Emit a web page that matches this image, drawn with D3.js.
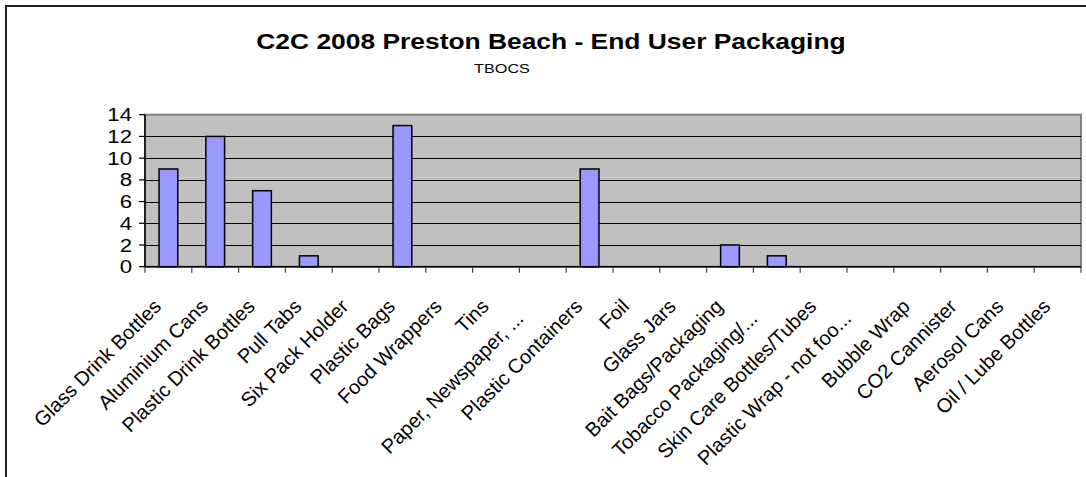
<!DOCTYPE html>
<html>
<head>
<meta charset="utf-8">
<script src="https://cdn.jsdelivr.net/npm/d3@7/dist/d3.min.js"></script>
<style>
  html, body { margin: 0; padding: 0; background: #fff; }
  svg { display: block; }
  text { font-family: "Liberation Sans", Arial, sans-serif; fill: #000; }
</style>
</head>
<body>
<svg id="chart" width="1086" height="477"></svg>
<script>
// Litter categories counted in the end-user packaging survey
const categories = [
  "Glass Drink Bottles", "Aluminium Cans", "Plastic Drink Bottles", "Pull Tabs",
  "Six Pack Holder", "Plastic Bags", "Food Wrappers", "Tins",
  "Paper, Newspaper, ...", "Plastic Containers", "Foil", "Glass Jars",
  "Bait Bags/Packaging", "Tobacco Packaging/...", "Skin Care Bottles/Tubes",
  "Plastic Wrap - not foo...", "Bubble Wrap", "CO2 Cannister", "Aerosol Cans",
  "Oil / Lube Bottles"
];
// Item counts per category (TBOCS series)
const counts = [9, 12, 7, 1, 0, 13, 0, 0, 0, 9, 0, 0, 2, 1, 0, 0, 0, 0, 0, 0];
// Value-axis tick labels
const yTicks = [0, 2, 4, 6, 8, 10, 12, 14];

const titleText = "C2C 2008 Preston Beach - End User Packaging";
const subtitleText = "TBOCS";

const svg = d3.select("#chart");
const plot = { left: 145, right: 1081, top: 114.7, bottom: 266.7 };
const sx = 1.2; // horizontal text stretch

// Chart-area border (runs off the right and bottom edges)
svg.append("rect")
  .attr("x", 6).attr("y", 6)
  .attr("width", 1100).attr("height", 500)
  .attr("fill", "#fff")
  .attr("stroke", "#222").attr("stroke-width", 2);

const x = d3.scaleBand()
  .domain(categories)
  .range([plot.left, plot.right])
  .paddingInner(0.6)
  .paddingOuter(0.3);

const y = d3.scaleLinear()
  .domain([0, 14])
  .range([plot.bottom, plot.top]);

// Plot area
svg.append("rect")
  .attr("x", plot.left).attr("y", plot.top)
  .attr("width", plot.right - plot.left)
  .attr("height", plot.bottom - plot.top)
  .attr("fill", "#C0C0C0")
  .attr("stroke", "#808080").attr("stroke-width", 2);

// Horizontal gridlines
svg.append("g")
  .selectAll("line")
  .data(yTicks.filter(d => d > 0 && d < 14))
  .join("line")
  .attr("x1", plot.left).attr("x2", plot.right)
  .attr("y1", d => Math.round(y(d)) + 0.5)
  .attr("y2", d => Math.round(y(d)) + 0.5)
  .attr("stroke", "#000").attr("stroke-width", 1);

// Bars
svg.append("g")
  .selectAll("rect")
  .data(categories.map((c, i) => ({ c, v: counts[i] })).filter(d => d.v > 0))
  .join("rect")
  .attr("x", d => x(d.c))
  .attr("y", d => y(d.v))
  .attr("width", x.bandwidth())
  .attr("height", d => y(0) - y(d.v))
  .attr("fill", "#9999FF")
  .attr("stroke", "#000").attr("stroke-width", 1.5);

// Value axis
const yAxis = svg.append("g");
yAxis.append("line")
  .attr("x1", plot.left).attr("x2", plot.left)
  .attr("y1", plot.top).attr("y2", plot.bottom)
  .attr("stroke", "#000").attr("stroke-width", 1.5);
yAxis.selectAll("line.tick")
  .data(yTicks)
  .join("line")
  .attr("class", "tick")
  .attr("x1", plot.left - 6).attr("x2", plot.left)
  .attr("y1", d => y(d)).attr("y2", d => y(d))
  .attr("stroke", "#000").attr("stroke-width", 1.2);
yAxis.selectAll("text")
  .data(yTicks)
  .join("text")
  .attr("transform", d => `translate(${plot.left - 13},${y(d) + 6.6}) scale(${sx},1)`)
  .attr("text-anchor", "end")
  .attr("font-size", 18.5)
  .text(d => d);

// Category axis
const xAxis = svg.append("g");
xAxis.append("line")
  .attr("x1", plot.left).attr("x2", plot.right)
  .attr("y1", plot.bottom).attr("y2", plot.bottom)
  .attr("stroke", "#000").attr("stroke-width", 1.5);
xAxis.selectAll("line.tick")
  .data(d3.range(categories.length + 1))
  .join("line")
  .attr("class", "tick")
  .attr("x1", i => x.range()[0] + i * x.step())
  .attr("x2", i => x.range()[0] + i * x.step())
  .attr("y1", plot.bottom).attr("y2", plot.bottom + 6)
  .attr("stroke", "#444").attr("stroke-width", 1.2);
// Rotated category labels; truncated ones sit a little further down the slope
xAxis.selectAll("text")
  .data(categories)
  .join("text")
  .attr("transform", d => {
    const cx = x(d) + x.bandwidth() / 2;
    const cut = d.endsWith("...") ? 12 : 0;
    return `translate(${cx - 6 - cut},${plot.bottom + 41 + cut}) rotate(-45)`;
  })
  .attr("text-anchor", "end")
  .attr("font-size", 20)
  .text(d => d);

// Titles
svg.append("text")
  .attr("transform", `translate(551,49) scale(${sx},1)`)
  .attr("text-anchor", "middle")
  .attr("font-size", 22)
  .attr("font-weight", "bold")
  .text(titleText);
svg.append("text")
  .attr("transform", `translate(502,73) scale(${sx},1)`)
  .attr("text-anchor", "middle")
  .attr("font-size", 13.5)
  .text(subtitleText);
</script>
</body>
</html>
